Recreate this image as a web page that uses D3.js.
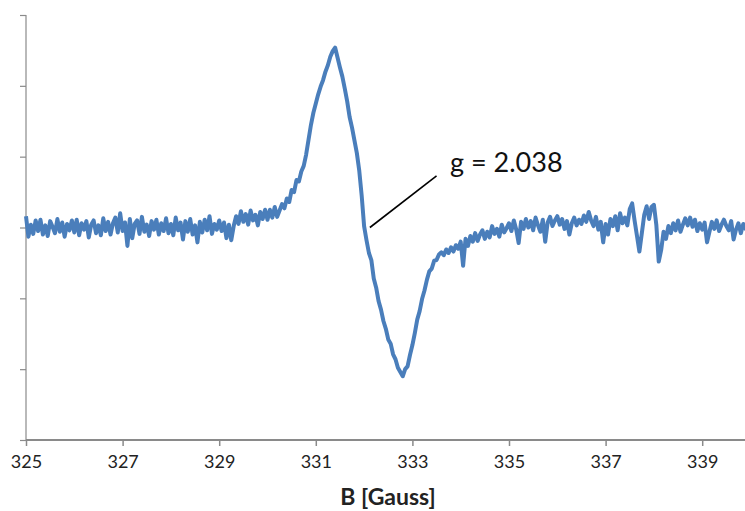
<!DOCTYPE html>
<html>
<head>
<meta charset="utf-8">
<script src="https://cdn.jsdelivr.net/npm/d3@7"></script>
<style>
  html, body { margin: 0; padding: 0; background: #fff; }
  svg { display: block; }
</style>
</head>
<body>
<div id="chart"></div>
<script>
// ---- data ----
const fieldStart = 325;      // Gauss
const fieldStep = 0.05;      // Gauss per sample
// signal (arbitrary units), one row per Gauss: 325.00 ... 339.95, then 340.00
const signal325 = [1.6, -1.3, 0.4, -0.9, 1.0, -0.5, 1.1, -1.0, 0.3, -1.2, 0.9, 0.1, -0.8, 1.2, -0.6, 0.7, -1.3, 0.5, -0.4, 1.0];
const signal326 = [-0.7, 1.1, -1.1, 0.6, -0.3, 0.9, -1.4, 0.4, 1.0, -0.8, 0.3, -1.1, 1.3, -0.5, 0.8, -1.0, 0.6, 1.4, -0.7, 2.0];
const signal327 = [-0.5, 0.7, -2.6, 1.2, -1.5, 0.5, 1.0, -0.9, 1.5, -0.6, 0.4, -1.2, 0.9, -0.3, 1.1, -1.0, 0.6, -0.5, 1.3, -0.8];
const signal328 = [0.5, -1.1, 1.4, -0.4, 0.7, -1.7, 0.9, -0.6, 1.2, -1.0, 0.3, -2.1, 0.8, -0.7, 1.1, -0.4, 1.6, -0.9, 0.5, -0.3];
const signal329 = [1.0, -0.5, 0.7, -1.5, 0.4, -1.8, 0.2, 1.6, 0.5, 2.3, 0.8, 1.9, 0.4, 2.4, 1.0, 1.8, 0.3, 2.2, 1.2, 2.5];
const signal330 = [1.1, 2.5, 1.4, 2.9, 1.5, 2.4, 3.3, 2.7, 4.1, 3.6, 5.3, 5.0, 6.7, 6.5, 7.9, 8.7, 10.3, 12.4, 14.5, 16.2];
const signal331 = [17.5, 18.8, 19.9, 20.8, 22.0, 22.9, 24.1, 24.9, 25.4, 24.0, 22.6, 21.3, 19.6, 17.8, 15.6, 14.1, 12.3, 10.5, 8.0, 4.5];
const signal332 = [0.2, -1.8, -3.6, -4.6, -7.2, -8.5, -10.4, -11.6, -13.2, -14.3, -15.8, -16.4, -17.9, -18.6, -19.8, -20.4, -21.0, -20.0, -19.6, -18.0];
const signal333 = [-16.6, -14.9, -13.0, -11.8, -10.1, -8.9, -7.4, -6.2, -5.8, -4.7, -4.6, -3.8, -3.5, -3.9, -3.1, -3.6, -2.8, -3.4, -2.5, -3.0];
const signal334 = [-2.0, -5.4, -1.6, -2.6, -1.2, -2.0, -0.8, -1.9, -1.0, -0.4, -1.6, -0.6, -1.4, 0.2, -0.9, -0.2, -1.3, 0.4, -0.7, -0.1];
const signal335 = [0.6, -0.5, 1.0, -0.3, -2.2, 0.8, -0.2, 1.2, 0.0, 0.9, -0.4, 1.4, 0.3, -0.6, 1.1, -2.0, 0.7, 1.5, 0.2, 1.0];
const signal336 = [1.6, 0.4, 1.2, -0.2, 0.9, -1.0, 0.6, 1.4, 0.3, 1.1, 0.5, 1.7, 0.8, 2.2, 1.0, 0.2, 1.5, -0.3, 0.8, -2.1];
const signal337 = [0.5, -1.0, 1.2, 0.2, 1.6, -0.4, 2.0, 0.6, 1.4, 0.3, 2.6, 3.4, 1.0, -1.2, -3.4, -0.8, 1.8, 3.0, 1.2, 2.9];
const signal338 = [3.2, 0.4, -4.8, -3.2, -0.6, -1.6, 0.2, -0.8, 0.6, -0.4, 1.0, -0.6, 0.4, 1.3, 0.3, 1.4, 0.1, 1.1, -0.5, 0.6];
const signal339 = [-0.3, 0.7, -2.1, -0.6, 0.8, -0.2, 1.0, -0.5, 0.4, 1.1, 0.2, -0.4, 0.9, -1.7, -0.3, 0.6, -0.8, 0.5, -0.2, 0.3];
const signal340 = [0.1];

const xTicks = [325, 327, 329, 331, 333, 335, 337, 339];
const yTicks = [-30, -20, -10, 0, 10, 20, 30];
const xLabel = "B [Gauss]";
const annotationText = "g = 2.038";
const annotationFrom = [332.12, 0.0];
const annotationTo = [333.5, 7.3];
const annotationTextAt = [333.78, 7.9];

// ---- build ----
const signal = [].concat(signal325, signal326, signal327, signal328, signal329, signal330,
  signal331, signal332, signal333, signal334, signal335, signal336, signal337, signal338,
  signal339, signal340);
const data = signal.map((v, i) => ({ b: fieldStart + i * fieldStep, v: v }));

const W = 745, H = 511;
const svg = d3.select("#chart").append("svg").attr("width", W).attr("height", H);

const x = d3.scaleLinear().domain([325, 340]).range([26, 750.5]);
const y = d3.scaleLinear().domain([-30, 30]).range([440, 15]);

// y axis (no labels)
const yAxis = svg.append("g").attr("transform", "translate(26,0)")
  .call(d3.axisLeft(y).tickValues(yTicks).tickSize(6).tickFormat(""));
yAxis.select(".domain").attr("stroke", "#8a8a8a").attr("stroke-width", 1.2).attr("d", `M0,${y(30)}V${y(-30)}`);
yAxis.selectAll(".tick line").attr("stroke", "#8a8a8a").attr("stroke-width", 1.2);

// data line
const line = d3.line().x(d => x(d.b)).y(d => y(d.v));
svg.append("path").datum(data)
  .attr("fill", "none")
  .attr("stroke", "#4a7ebb")
  .attr("stroke-width", 4)
  .attr("stroke-linejoin", "round")
  .attr("d", line);

// x axis
const xAxis = svg.append("g").attr("transform", `translate(0,${y(-30)})`)
  .call(d3.axisBottom(x).tickValues(xTicks).tickSize(6).tickPadding(9).tickFormat(d3.format("d")));
xAxis.select(".domain").attr("stroke", "#8a8a8a").attr("stroke-width", 2).attr("d", `M26,0H${W}`);
xAxis.selectAll(".tick line").attr("stroke", "#8a8a8a").attr("stroke-width", 1.5);
xAxis.selectAll(".tick text")
  .attr("fill", "#222")
  .style("font-family", "Lato, 'Open Sans', sans-serif")
  .style("font-size", "18px");

// axis title
svg.append("text")
  .attr("x", 388).attr("y", 505)
  .attr("text-anchor", "middle")
  .style("font-family", "Lato, 'Open Sans', sans-serif")
  .style("font-weight", "bold")
  .style("font-size", "23px")
  .attr("fill", "#222")
  .text(xLabel);

// annotation
svg.append("line")
  .attr("x1", x(annotationFrom[0])).attr("y1", y(annotationFrom[1]))
  .attr("x2", x(annotationTo[0])).attr("y2", y(annotationTo[1]))
  .attr("stroke", "#000").attr("stroke-width", 1.6);
svg.append("text")
  .attr("x", x(annotationTextAt[0])).attr("y", y(annotationTextAt[1]))
  .style("font-family", "Lato, 'Open Sans', sans-serif")
  .style("font-size", "27px")
  .attr("fill", "#111")
  .text(annotationText);
</script>
</body>
</html>
